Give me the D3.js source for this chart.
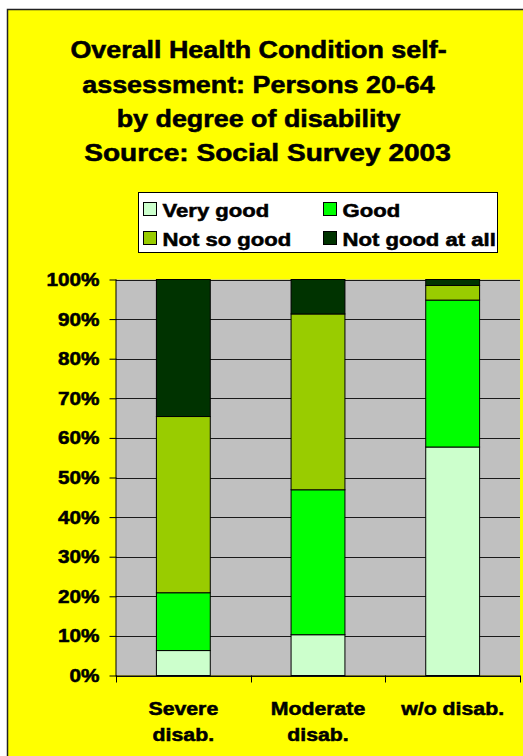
<!DOCTYPE html>
<html>
<head>
<meta charset="utf-8">
<script src="https://cdn.jsdelivr.net/npm/d3@7"></script>
<style>
  html, body { margin: 0; padding: 0; background: #ffffff; }
  svg { display: block; }
  text { font-family: "Liberation Sans", Arial, sans-serif; font-weight: bold; fill: #000;
         stroke: #000; stroke-width: 0.55px; }
</style>
</head>
<body>
<svg id="chart" width="523" height="756"></svg>
<script>
// Health self-assessment shares (%) by degree of disability
const categories = ["Severe disab.", "Moderate disab.", "w/o disab."];
const categoryLines = [["Severe", "disab."], ["Moderate", "disab."], ["w/o disab."]];
const seriesNames = ["Very good", "Good", "Not so good", "Not good at all"];
const veryGood     = [6.3, 10.3, 57.7];
const good         = [14.6, 36.6, 37.1];
const notSoGood    = [44.5, 44.4, 3.7];
const notGoodAtAll = [34.6, 8.7, 1.5];
const yTicks = [0, 10, 20, 30, 40, 50, 60, 70, 80, 90, 100];
const titleLines = [
  "Overall Health Condition self-",
  "assessment: Persons 20-64",
  "by degree of disability",
  "Source: Social Survey 2003"
];
const seriesColors = ["#CCFFCC", "#00FF00", "#99CC00", "#003300"];

const rows = categories.map((c, i) => ({
  category: c,
  "Very good": veryGood[i],
  "Good": good[i],
  "Not so good": notSoGood[i],
  "Not good at all": notGoodAtAll[i]
}));

const svg = d3.select("#chart");
const stretch = 1.12; // horizontal widening of the lettering

// chart frame
svg.append("rect")
  .attr("x", 7.5).attr("y", 9.5)
  .attr("width", 540).attr("height", 760)
  .attr("fill", "#FFFF00")
  .attr("stroke", "#222").attr("stroke-width", 1.5);

// title
const titleX = [258.5, 258.5, 258.5, 267.5];
const titleY = [58, 92.5, 127, 161];
const titleStretch = [stretch, stretch, stretch, 1.17];
svg.append("g").selectAll("text").data(titleLines).join("text")
  .attr("transform", (d, i) => `translate(${titleX[i]},${titleY[i]}) scale(${titleStretch[i]},1)`)
  .attr("text-anchor", "middle")
  .attr("font-size", 24)
  .text(d => d);

// scales
const plot = { left: 116, right: 520, top: 279.5, bottom: 675.5 };
const x = d3.scaleBand().domain(categories)
  .range([plot.left, plot.right])
  .paddingInner(0.6).paddingOuter(0.3);
const y = d3.scaleLinear().domain([0, 100]).range([plot.bottom, plot.top]);

// plot area
svg.append("rect")
  .attr("x", plot.left).attr("y", plot.top)
  .attr("width", plot.right - plot.left).attr("height", plot.bottom - plot.top)
  .attr("fill", "#C0C0C0");

// horizontal gridlines
svg.append("g").selectAll("line").data(yTicks).join("line")
  .attr("x1", plot.left).attr("x2", plot.right)
  .attr("y1", d => Math.round(y(d)) + 0.5).attr("y2", d => Math.round(y(d)) + 0.5)
  .attr("stroke", "#1a1a1a").attr("stroke-width", 1);

// stacked bars
const stack = d3.stack().keys(seriesNames);
const layers = stack(rows);
svg.append("g").selectAll("g").data(layers).join("g")
  .attr("fill", (d, i) => seriesColors[i])
  .selectAll("rect").data(d => d).join("rect")
  .attr("x", d => x(d.data.category))
  .attr("width", x.bandwidth())
  .attr("y", d => y(d[1]))
  .attr("height", d => y(d[0]) - y(d[1]))
  .attr("stroke", "#000").attr("stroke-width", 1);

// y axis
const yAxis = d3.axisLeft(y).tickValues(yTicks).tickSize(7).tickPadding(10)
  .tickFormat(d => d + "%");
const gy = svg.append("g").attr("transform", `translate(${plot.left + 0.5},0)`).call(yAxis);
gy.select(".domain").attr("stroke", "#000").attr("d", `M-0.5,${plot.top}V${plot.bottom + 1}`);
gy.selectAll(".tick line").attr("stroke", "#000");
gy.selectAll(".tick text")
  .attr("font-size", 18.5)
  .attr("font-family", null).attr("fill", "#000")
  .attr("transform", `scale(${stretch},1)`)
  .attr("x", -17 / stretch);

// x axis: line and category boundary ticks
const boundaries = categories.map(c => x(c) - x.step() * x.paddingInner() / 2).concat([plot.right]);
const gx = svg.append("g");
gx.append("line")
  .attr("x1", plot.left).attr("x2", plot.right)
  .attr("y1", plot.bottom + 0.5).attr("y2", plot.bottom + 0.5)
  .attr("stroke", "#000");
gx.selectAll("line.tk").data(boundaries).join("line").attr("class", "tk")
  .attr("x1", d => Math.round(d) + 0.5).attr("x2", d => Math.round(d) + 0.5)
  .attr("y1", plot.bottom).attr("y2", plot.bottom + 7)
  .attr("stroke", "#000");

// category labels
const labelG = svg.append("g").selectAll("g").data(categories).join("g")
  .attr("transform", d => `translate(${x(d) + x.bandwidth() / 2},715) scale(${stretch},1)`);
labelG.selectAll("text").data((d, i) => categoryLines[i]).join("text")
  .attr("text-anchor", "middle")
  .attr("font-size", 19)
  .attr("y", (d, i) => i * 26)
  .text(d => d);

// legend
const legend = svg.append("g");
legend.append("rect")
  .attr("x", 138.5).attr("y", 192.5).attr("width", 359).attr("height", 60)
  .attr("fill", "#fff").attr("stroke", "#000");
const legendPos = [[143.5, 202.5], [323.5, 202.5], [143.5, 231.5], [323.5, 231.5]];
const items = legend.selectAll("g").data(seriesNames).join("g")
  .attr("transform", (d, i) => `translate(${legendPos[i][0]},${legendPos[i][1]})`);
items.append("rect")
  .attr("width", 13).attr("height", 13)
  .attr("fill", (d, i) => seriesColors[i]).attr("stroke", "#000");
items.append("text")
  .attr("transform", `translate(19,14) scale(1.15,1)`)
  .attr("font-size", 19.2)
  .text(d => d);
</script>
</body>
</html>
